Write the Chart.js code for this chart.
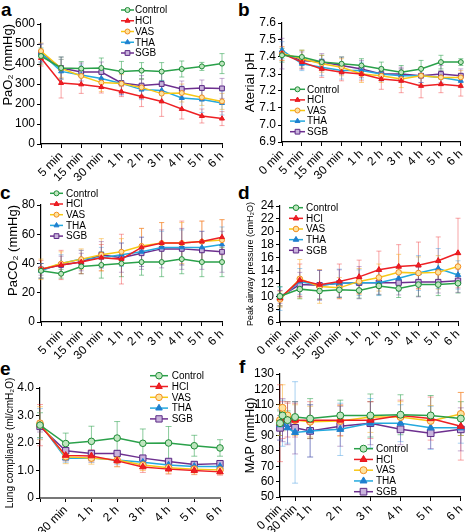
<!DOCTYPE html>
<html>
<head>
<meta charset="utf-8">
<script src="https://cdn.jsdelivr.net/npm/chart.js@4.4.1/dist/chart.umd.min.js"></script>
<style>
  body { margin: 0; background: #fff; width: 472px; height: 532px; position: relative; overflow: hidden; }
  canvas { position: absolute; }
  .tag { position: absolute; font: bold 19px "Liberation Sans", Arial, sans-serif; line-height: 1; }
</style>
</head>
<body>
<div class="tag" style="left:1px;top:0px">a</div>
<div class="tag" style="left:238px;top:0px">b</div>
<div class="tag" style="left:0px;top:183px">c</div>
<div class="tag" style="left:238px;top:183px">d</div>
<div class="tag" style="left:0px;top:359px">e</div>
<div class="tag" style="left:239px;top:357px">f</div>
<canvas id="chartA"></canvas>
<canvas id="chartB"></canvas>
<canvas id="chartC"></canvas>
<canvas id="chartD"></canvas>
<canvas id="chartE"></canvas>
<canvas id="chartF"></canvas>
<script>
// groups and time points
const groups = ['Control', 'HCl', 'VAS', 'THA', 'SGB'];
const timesA = ['', '5 min', '15 min', '30 min', '1 h', '2 h', '3 h', '4 h', '5 h', '6 h'];
const timesB = ['0 min', '5 min', '15 min', '30 min', '1 h', '2 h', '3 h', '4 h', '5 h', '6 h'];
const timesE = ['', '30 min', '1 h', '2 h', '3 h', '4 h', '5 h', '6 h'];
const hoursF = [0, 0.083, 0.25, 0.5, 1, 2, 3, 4, 5, 6];
const tickHoursF = [0, 0.5, 1, 2, 3, 4, 5, 6];
const tickLabelsF = ['0 min', '30 min', '1 h', '2 h', '3 h', '4 h', '5 h', '6 h'];

// a: PaO2 (mean, sd) - rows follow groups
const pao2Mean = [
  [440, 380, 377, 380, 363, 367, 362, 375, 388, 402],
  [430, 305, 298, 285, 262, 237, 213, 175, 140, 127],
  [465, 378, 340, 307, 302, 283, 252, 255, 233, 213],
  [455, 363, 345, 328, 303, 272, 268, 230, 222, 205],
  [455, 380, 360, 360, 305, 292, 300, 275, 280, 278]
];
const pao2Sd = [
  [40, 55, 35, 50, 50, 40, 45, 40, 20, 50],
  [40, 75, 45, 30, 25, 50, 75, 50, 35, 35],
  [40, 45, 40, 45, 45, 40, 45, 45, 40, 40],
  [45, 60, 50, 50, 55, 50, 50, 60, 65, 60],
  [45, 55, 45, 50, 60, 50, 55, 40, 40, 50]
];

// b: arterial pH
const phMean = [
  [7.41, 7.40, 7.37, 7.36, 7.35, 7.33, 7.31, 7.33, 7.37, 7.37],
  [7.42, 7.37, 7.33, 7.31, 7.30, 7.27, 7.26, 7.23, 7.24, 7.23],
  [7.42, 7.39, 7.36, 7.34, 7.30, 7.29, 7.27, 7.29, 7.28, 7.28],
  [7.44, 7.36, 7.34, 7.32, 7.32, 7.30, 7.29, 7.29, 7.28, 7.26],
  [7.42, 7.38, 7.37, 7.35, 7.33, 7.30, 7.30, 7.29, 7.30, 7.29]
];
const phSd = [
  [0.04, 0.04, 0.04, 0.04, 0.04, 0.04, 0.04, 0.05, 0.04, 0.02],
  [0.04, 0.04, 0.05, 0.05, 0.04, 0.06, 0.07, 0.07, 0.05, 0.06],
  [0.04, 0.05, 0.05, 0.05, 0.05, 0.04, 0.05, 0.05, 0.04, 0.04],
  [0.05, 0.04, 0.05, 0.05, 0.05, 0.04, 0.04, 0.04, 0.04, 0.04],
  [0.09, 0.05, 0.05, 0.05, 0.05, 0.04, 0.04, 0.04, 0.05, 0.04]
];

// c: PaCO2
const paco2Mean = [
  [35, 33, 38, 39, 40, 41, 41, 43, 41, 41],
  [36, 39, 41, 44, 43, 51, 54, 54, 55, 58],
  [36, 40, 43, 46, 48, 52, 54, 54, 55, 56],
  [35, 40, 43, 44, 46, 48, 51, 51, 51, 53],
  [36, 39, 41, 46, 44, 47, 50, 50, 49, 48]
];
const paco2Sd = [
  [5, 3, 5, 9, 9, 9, 10, 10, 10, 10],
  [6, 10, 8, 9, 17, 13, 14, 15, 14, 12],
  [7, 8, 7, 11, 9, 12, 14, 14, 14, 14],
  [5, 6, 6, 7, 8, 10, 11, 12, 11, 12],
  [4, 6, 6, 9, 10, 11, 13, 14, 13, 14]
];

// d: peak airway pressure
const pawMean = [
  [10.0, 11.1, 10.8, 11.0, 10.9, 11.6, 11.2, 11.8, 11.8, 12.0],
  [9.7, 12.5, 11.8, 12.3, 13.0, 14.1, 14.6, 14.8, 15.5, 16.7],
  [9.5, 12.7, 11.5, 11.3, 12.3, 12.9, 13.7, 13.6, 13.7, 14.6],
  [9.6, 12.3, 11.7, 12.0, 12.1, 12.1, 12.8, 13.6, 14.3, 13.3],
  [9.9, 11.8, 11.7, 12.0, 12.1, 12.1, 12.1, 12.2, 12.2, 12.4]
];
const pawSd = [
  [1.5, 1.5, 1.2, 1.2, 1.2, 1.4, 1.4, 1.8, 1.7, 1.5],
  [1.2, 2.5, 2.3, 2.7, 2.6, 2.9, 3.4, 3.6, 3.7, 5.4],
  [1.2, 3.0, 2.6, 1.6, 2.0, 2.1, 2.8, 2.5, 2.6, 2.0],
  [1.8, 2.0, 2.3, 2.2, 2.0, 2.0, 2.0, 2.7, 3.1, 2.2],
  [1.0, 1.9, 2.3, 2.1, 2.5, 1.8, 1.9, 2.3, 1.7, 1.8]
];

// e: lung compliance
const complMean = [
  [2.65, 1.98, 2.06, 2.18, 1.99, 2.00, 1.90, 1.82],
  [2.65, 1.55, 1.53, 1.35, 1.13, 1.05, 1.00, 0.95],
  [2.72, 1.50, 1.45, 1.38, 1.20, 1.10, 1.05, 1.02],
  [2.70, 1.45, 1.45, 1.38, 1.30, 1.20, 1.15, 1.15],
  [2.60, 1.72, 1.62, 1.62, 1.45, 1.33, 1.22, 1.25]
];
const complSd = [
  [0.45, 0.38, 0.55, 0.60, 0.52, 0.60, 0.38, 0.30],
  [0.75, 0.20, 0.22, 0.20, 0.20, 0.18, 0.15, 0.12],
  [0.60, 0.25, 0.22, 0.25, 0.20, 0.20, 0.18, 0.15],
  [0.55, 0.15, 0.15, 0.15, 0.12, 0.12, 0.12, 0.10],
  [0.20, 0.12, 0.10, 0.10, 0.10, 0.10, 0.08, 0.08]
];

// f: MAP
const mapMean = [
  [98, 103, 100, 102, 101, 103, 103, 103.5, 103, 101],
  [98, 100, 100, 100, 100, 100, 100, 103, 101, 96],
  [100, 108, 103, 100, 99, 99.5, 102, 102, 99.5, 104],
  [97, 98, 95, 92, 93, 94, 98, 98, 95, 95],
  [95, 100, 98, 95, 93, 96, 98, 94, 91.5, 94]
];
const mapSd = [
  [8, 6, 6, 10, 13, 10, 14, 13, 13, 11],
  [25, 12, 11, 11, 12, 10, 12, 10, 14, 22],
  [10, 15, 9, 10, 10, 10, 10, 10, 10, 14],
  [10, 15, 10, 33, 17, 17, 16, 12, 14, 10],
  [8, 14, 14, 17, 17, 13, 14, 10, 10, 14]
];

// styles
const lineColors = ['#2aa14a', '#ee2024', '#f7c815', '#24a9de', '#6d2f8f'];
const edgeColors = ['#1d8a36', '#e8141c', '#f28c1e', '#1e7fcf', '#5b2a86'];
const fillColors = ['#bfe6bf', '#ee2024', '#fde3a0', '#1e7fcf', '#c9b3dc'];
const errColors = ['rgba(42,161,74,0.55)', 'rgba(238,32,36,0.4)', 'rgba(247,170,30,0.5)', 'rgba(37,140,220,0.4)', 'rgba(109,47,143,0.4)'];
const markers = ['circle', 'triangle', 'circle', 'triangle', 'rect'];

Chart.defaults.font.family = '"Liberation Sans", Arial, sans-serif';
Chart.defaults.color = '#000';

function drawMarker(ctx, style, r, fill, edge, x, y) {
  ctx.beginPath();
  if (style === 'circle') {
    ctx.arc(x, y, r, 0, Math.PI * 2);
  } else if (style === 'triangle') {
    let a = 0;
    ctx.moveTo(x + Math.sin(a) * r, y - Math.cos(a) * r);
    a += Math.PI * 2 / 3;
    ctx.lineTo(x + Math.sin(a) * r, y - Math.cos(a) * r);
    a += Math.PI * 2 / 3;
    ctx.lineTo(x + Math.sin(a) * r, y - Math.cos(a) * r);
    ctx.closePath();
  } else {
    const s = r * Math.SQRT1_2;
    ctx.rect(x - s, y - s, 2 * s, 2 * s);
  }
  ctx.fillStyle = fill;
  ctx.fill();
  ctx.strokeStyle = edge;
  ctx.lineWidth = 1;
  ctx.stroke();
}

// vertical sd whiskers, drawn under the lines
const errorBars = {
  id: 'errorBars',
  beforeDatasetsDraw(chart, args, opts) {
    const ctx = chart.ctx;
    const yScale = chart.scales.y;
    chart.data.datasets.forEach((ds, i) => {
      const meta = chart.getDatasetMeta(i);
      ctx.save();
      ctx.strokeStyle = errColors[i];
      ctx.lineWidth = 1;
      meta.data.forEach((pt, j) => {
        const d = ds.data[j];
        const v = typeof d === 'object' ? d.y : d;
        const top = yScale.getPixelForValue(v + ds.sd[j]);
        const bot = yScale.getPixelForValue(v - ds.sd[j]);
        const c = opts.cap || 2.5;
        ctx.beginPath();
        ctx.moveTo(pt.x, top); ctx.lineTo(pt.x, bot);
        ctx.moveTo(pt.x - c, top); ctx.lineTo(pt.x + c, top);
        ctx.moveTo(pt.x - c, bot); ctx.lineTo(pt.x + c, bot);
        ctx.stroke();
      });
      ctx.restore();
    });
  }
};

// small legend placed inside each panel
const panelLegend = {
  id: 'panelLegend',
  afterDatasetsDraw(chart, args, o) {
    const ctx = chart.ctx;
    chart.data.datasets.forEach((ds, i) => {
      const y = o.top + i * o.gap;
      ctx.save();
      ctx.strokeStyle = ds.borderColor;
      ctx.lineWidth = 1.5;
      ctx.beginPath();
      ctx.moveTo(o.left, y);
      ctx.lineTo(o.left + o.len, y);
      ctx.stroke();
      drawMarker(ctx, ds.pointStyle, ds.pointRadius, ds.pointBackgroundColor, ds.pointBorderColor, o.left + o.len / 2, y);
      ctx.fillStyle = '#000';
      ctx.font = '10px "Liberation Sans", Arial, sans-serif';
      ctx.textBaseline = 'middle';
      ctx.fillText(ds.label, o.textX, y + 0.5);
      ctx.restore();
    });
  }
};

function seriesSets(means, sds, xs, size) {
  return groups.map((g, i) => ({
    label: g,
    data: xs ? means[i].map((v, j) => ({ x: xs[j], y: v })) : means[i],
    sd: sds[i],
    borderColor: lineColors[i],
    backgroundColor: lineColors[i],
    borderWidth: 1.5,
    pointStyle: markers[i],
    pointRadius: markers[i] === 'rect' ? size * 1.35 : (markers[i] === 'triangle' ? size * 1.15 : size),
    pointBackgroundColor: fillColors[i],
    pointBorderColor: edgeColors[i],
    pointBorderWidth: 1,
    tension: 0,
    clip: false
  }));
}

function makePanel(id, box, area, cfg) {
  const cv = document.getElementById(id);
  cv.style.left = box[0] + 'px';
  cv.style.top = box[1] + 'px';
  cv.width = box[2];
  cv.height = box[3];
  const [l, t, r, b] = area;
  const tickFont = { size: 12 };
  const grid = { drawOnChartArea: false, tickLength: 4, color: '#000', lineWidth: 1 };
  const xTicks = { autoSkip: false, maxRotation: 45, minRotation: 45, font: tickFont, color: '#000', padding: 1 };
  let xScale;
  if (cfg.hours) {
    xScale = {
      type: 'linear', min: 0, max: 6,
      afterBuildTicks: s => { s.ticks = cfg.tickHours.map(v => ({ value: v })); },
      ticks: Object.assign({}, xTicks, { callback: (v, i) => cfg.tickLabels[i] })
    };
  } else {
    xScale = { type: 'category', offset: false, ticks: xTicks };
  }
  xScale.grid = Object.assign({}, grid, { offset: false });
  xScale.border = { color: cfg.xAxisColor || '#000', width: cfg.xAxisWidth || 1.2 };
  xScale.afterFit = s => { s.height = box[1] + box[3] - b; };

  const yScale = {
    min: cfg.yMin, max: cfg.yMax,
    ticks: { stepSize: cfg.step, autoSkip: false, font: tickFont, color: '#000', padding: 2, callback: cfg.fmt },
    grid: grid,
    border: { color: '#000', width: 1.2 },
    title: {
      display: true, text: cfg.title, align: cfg.titleAlign || 'center',
      font: { size: cfg.titleSize }, color: '#000',
      padding: { top: cfg.titlePad, bottom: 0 }
    },
    afterFit: s => { s.width = l - box[0]; }
  };

  const lg = cfg.legend;
  return new Chart(cv, {
    type: 'line',
    data: {
      labels: cfg.hours ? undefined : cfg.labels,
      datasets: seriesSets(cfg.means, cfg.sds, cfg.hours, cfg.size)
    },
    options: {
      responsive: false,
      animation: false,
      events: [],
      layout: { padding: { left: 0, top: t - box[1], right: box[0] + box[2] - r, bottom: 0 } },
      scales: { x: xScale, y: yScale },
      plugins: {
        legend: { display: false },
        tooltip: { enabled: false },
        errorBars: { cap: cfg.cap },
        panelLegend: { left: lg[0] - box[0], len: lg[1], top: lg[2] - box[1], gap: lg[3], textX: lg[4] - box[0] }
      }
    },
    plugins: [errorBars, panelLegend]
  });
}

makePanel('chartA', [0, 0, 236, 185], [41, 24, 222, 144], {
  labels: timesA, means: pao2Mean, sds: pao2Sd, size: 2.5, cap: 2.5,
  yMin: 0, yMax: 600, step: 100,
  title: 'PaO\u2082 (mmHg)', titleSize: 13, titlePad: 1, titleAlign: 'end',
  legend: [121, 13, 10, 10.75, 135]
});

makePanel('chartB', [236, 0, 236, 185], [282, 23, 462, 142], {
  labels: timesB, means: phMean, sds: phSd, size: 2.5, cap: 2.5,
  yMin: 6.9, yMax: 7.6, step: 0.1, fmt: v => v.toFixed(1),
  title: 'Aterial pH', titleSize: 13.5, titlePad: 6,
  legend: [290, 15, 89.3, 10.6, 307]
});

makePanel('chartC', [0, 175, 236, 185], [41, 205, 222, 322], {
  labels: timesA, means: paco2Mean, sds: paco2Sd, size: 2.5, cap: 2.5,
  yMin: 0, yMax: 80, step: 20,
  title: 'PaCO\u2082 (mmHg)', titleSize: 13, titlePad: 6, titleAlign: 'end',
  legend: [50, 13, 193.3, 10.7, 66]
});

makePanel('chartD', [236, 175, 236, 185], [280, 206, 458, 322], {
  labels: timesB, means: pawMean, sds: pawSd, size: 2.8, cap: 2.5,
  yMin: 6, yMax: 24, step: 2,
  title: 'Peak airway pressure (cmH\u2082O)', titleSize: 9, titlePad: 9,
  legend: [289, 14, 207.7, 10.65, 306]
});

makePanel('chartE', [0, 350, 236, 182], [40, 388, 220, 498], {
  labels: timesE, means: complMean, sds: complSd, size: 3.3, cap: 3,
  yMin: 0, yMax: 4, step: 1, fmt: v => (v === 0 ? '0' : v.toFixed(1)),
  title: 'Lung compliance (ml/cmH\u2082O)', titleSize: 10, titlePad: 4,
  xAxisColor: '#777', xAxisWidth: 2,
  legend: [150, 18, 375.7, 10.8, 171.7]
});

makePanel('chartF', [236, 350, 236, 182], [280, 374, 465.5, 497], {
  hours: hoursF, tickHours: tickHoursF, tickLabels: tickLabelsF,
  means: mapMean, sds: mapSd, size: 3.5, cap: 3,
  yMin: 50, yMax: 130, step: 10,
  title: 'MAP (mmHg)', titleSize: 12.5, titlePad: 7,
  legend: [354, 19, 448.7, 10.75, 376]
});
</script>
</body>
</html>
